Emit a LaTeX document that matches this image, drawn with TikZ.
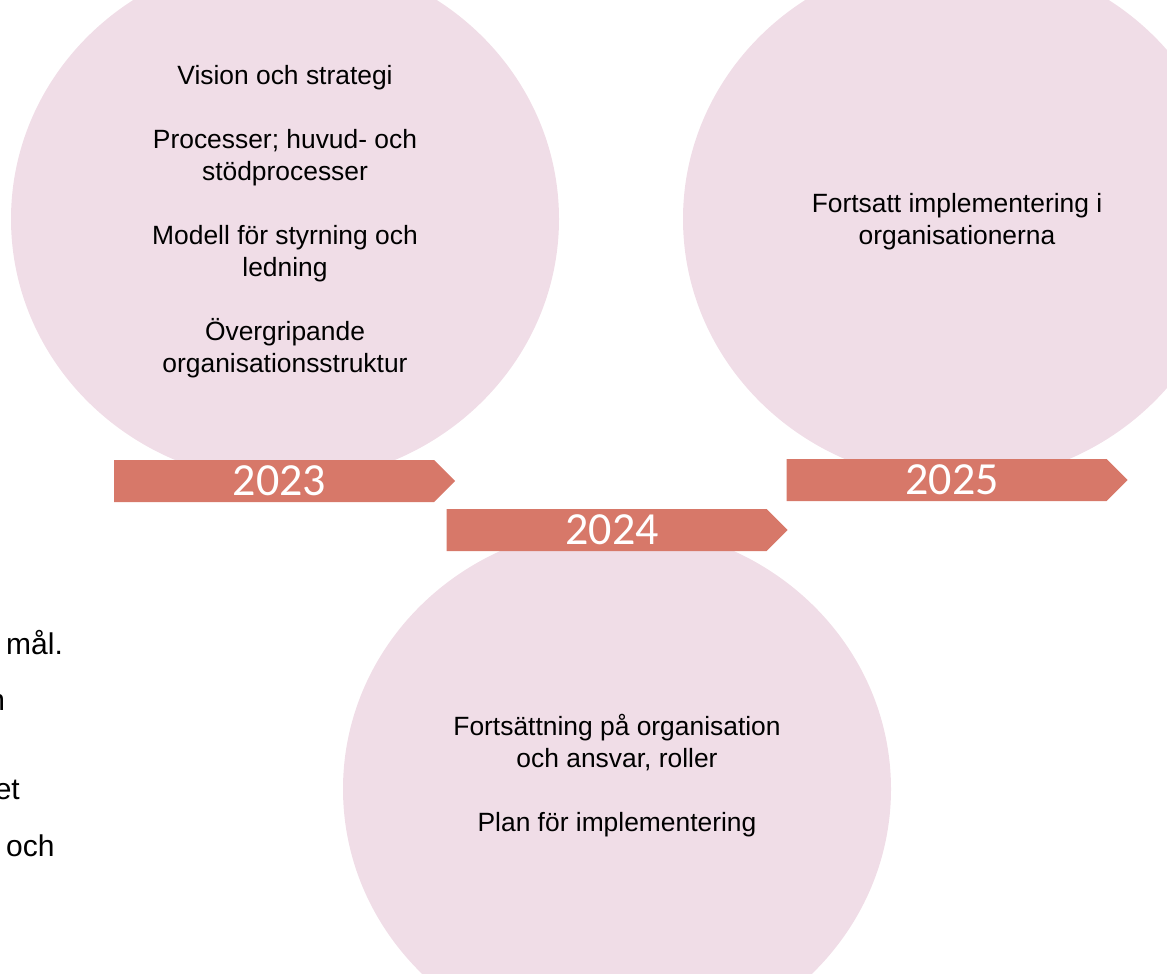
\documentclass[tikz,border=0pt]{standalone}
\usepackage{fontspec}
\setmainfont{Liberation Sans}
\newfontfamily\yearfont{Carlito}
\usetikzlibrary{shapes.geometric,shapes.symbols,positioning}

\definecolor{bubblepink}{RGB}{240,221,231}
\definecolor{yearred}{RGB}{215,120,105}

\tikzset{
  bubble/.style = {ellipse, fill = bubblepink, minimum width = 548pt, minimum height = 526pt, inner sep = 0pt},
  yeararrow/.style = {signal, signal to = east, signal pointer angle = 90, fill = yearred,
    minimum width = 341pt, minimum height = 42pt, inner sep = 0pt,
    text = white, font = \yearfont\fontsize{46}{50}\selectfont},
  bubbletext/.style = {align = center, font = \fontsize{26.4}{32}\selectfont, inner sep = 0pt},
  margintext/.style = {font = \fontsize{30}{36}\selectfont, inner sep = 0pt}
}

\begin{document}
\begin{tikzpicture}[x = 1pt, y = -1pt]

      \useasboundingbox (0, 0) rectangle (1167, 974);
      \clip (0, 0) rectangle (1167, 974);

      \node[bubble] (c2023) at (285, 219) {};
      \node[bubble] (c2025) at (957, 219) {};
      \node[bubble] (c2024) at (617, 789) {};

      \node[bubbletext] (t2023) at (285, 222) {Vision och strategi\\[32pt]
        Processer; huvud- och\\ stödprocesser\\[32pt]
        Modell för styrning och\\ ledning\\[32pt]
        Övergripande\\ organisationsstruktur};
      \node[bubbletext] (t2025) at (957, 222) {Fortsatt implementering i\\ organisationerna};
      \node[bubbletext] (t2024) at (617, 776) {Fortsättning på organisation\\ och ansvar, roller\\[32pt]
        Plan för implementering};

      \node[yeararrow] (a2023) at (274, 481) {2023\hspace*{-11pt}};
      \node[yeararrow] (a2024) at (606.5, 530) {2024\hspace*{-11pt}};
      \node[yeararrow] (a2025) at (946.5, 480) {2025\hspace*{-11pt}};

      \node[margintext, anchor = base west] (m1) at (6, 654) {mål.};
      \node[margintext, anchor = base east] (m2) at (5.3, 710) {n};
      \node[margintext, anchor = base east] (m3) at (20, 799) {et};
      \node[margintext, anchor = base west] (m4) at (6, 856) {och};

\end{tikzpicture}
\end{document}
